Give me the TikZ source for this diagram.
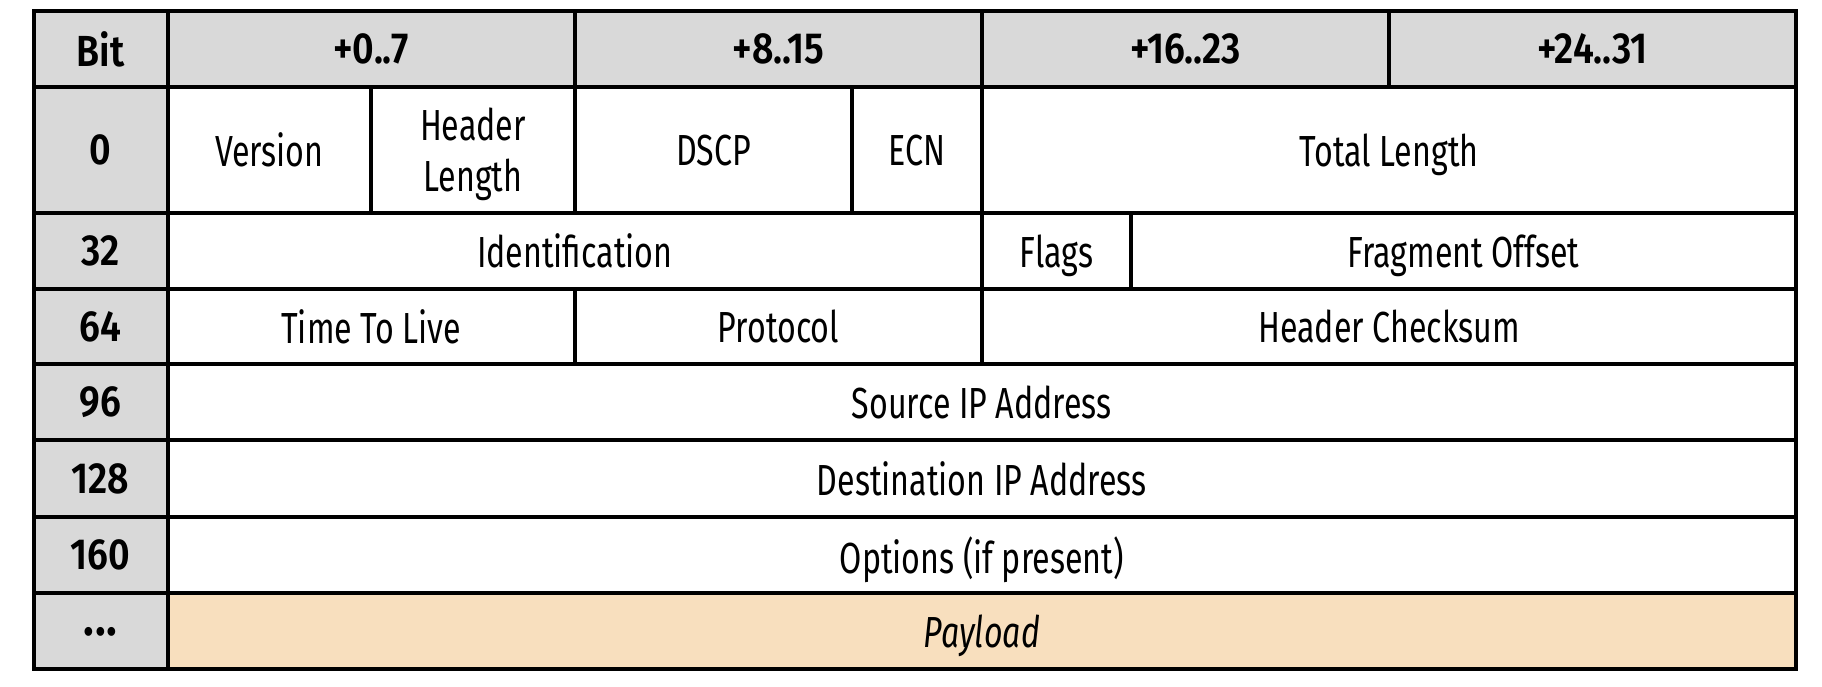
\documentclass[tikz,border=0pt]{standalone}
\usepackage{fontspec}
\setmainfont{Fira Sans}[FakeStretch=0.74, BoldFont={Fira Sans SemiBold}, BoldFeatures={FakeStretch=0.86}]
\usetikzlibrary{positioning}

\definecolor{headgray}{RGB}{217,217,217}
\definecolor{payload}{RGB}{248,223,190}

\begin{document}
\begin{tikzpicture}[x=1pt, y=-1pt,
    cell/.style={rectangle, draw=black, line width=4pt, outer sep=0pt, inner sep=0pt,
    minimum height=76pt, text centered, text depth=0pt, anchor=north west, fill=white},
    label/.style={cell, fill=headgray, minimum width=134pt, font=\fontsize{43.5}{51}\selectfont\bfseries},
    every node/.style={font=\fontsize{43.5}{51}\selectfont}]
    \useasboundingbox (0,0) rectangle (1822,686);

    % header row
    \node (bit) [label] at (33.5,11) {Bit};
    \node (oct0) [label, minimum width=407.5pt, right=0pt of bit] {+0..7};
    \node (oct1) [label, minimum width=407pt, right=0pt of oct0] {+8..15};
    \node (oct2) [label, minimum width=407pt, right=0pt of oct1] {+16..23};
    \node (oct3) [label, minimum width=407pt, right=0pt of oct2] {+24..31};

    % word 0
    \node (w0) [label, minimum height=126pt, below=0pt of bit] {0};
    \node (version) [cell, minimum height=126pt, minimum width=203.5pt, right=0pt of w0] {Version};
    \node (ihl) [cell, minimum height=126pt, minimum width=204pt, align=center, right=0pt of version] {Header\\Length};
    \node (dscp) [cell, minimum height=126pt, minimum width=277pt, right=0pt of ihl] {DSCP};
    \node (ecn) [cell, minimum height=126pt, minimum width=130pt, right=0pt of dscp] {ECN};
    \node (totlen) [cell, minimum height=126pt, minimum width=814pt, right=0pt of ecn] {Total Length};

    % word 32
    \node (w32) [label, below=0pt of w0] {32};
    \node (ident) [cell, minimum width=814.5pt, right=0pt of w32] {Identification};
    \node (flags) [cell, minimum width=149pt, right=0pt of ident] {Flags};
    \node (fragoff) [cell, minimum width=665pt, right=0pt of flags] {Fragment Offset};

    % word 64
    \node (w64) [label, minimum height=75pt, below=0pt of w32] {64};
    \node (ttl) [cell, minimum height=75pt, minimum width=407.5pt, right=0pt of w64] {Time To Live};
    \node (proto) [cell, minimum height=75pt, minimum width=407pt, right=0pt of ttl] {Protocol};
    \node (chksum) [cell, minimum height=75pt, minimum width=814pt, right=0pt of proto] {Header Checksum};

    % addresses, options, payload
    \node (w96) [label, below=0pt of w64] {96};
    \node (srcip) [cell, minimum width=1628.5pt, right=0pt of w96] {Source IP Address};
    \node (w128) [label, minimum height=77pt, below=0pt of w96] {128};
    \node (dstip) [cell, minimum height=77pt, minimum width=1628.5pt, right=0pt of w128] {Destination IP Address};
    \node (w160) [label, below=0pt of w128] {160};
    \node (opts) [cell, minimum width=1628.5pt, right=0pt of w160] {Options (if present)};
    \node (wmore) [label, below=0pt of w160] {\fontsize{52}{51}\selectfont.\kern1pt.\kern1pt.};
    \node (data) [cell, fill=payload, minimum width=1628.5pt, right=0pt of wmore] {\itshape Payload};
\end{tikzpicture}
\end{document}
